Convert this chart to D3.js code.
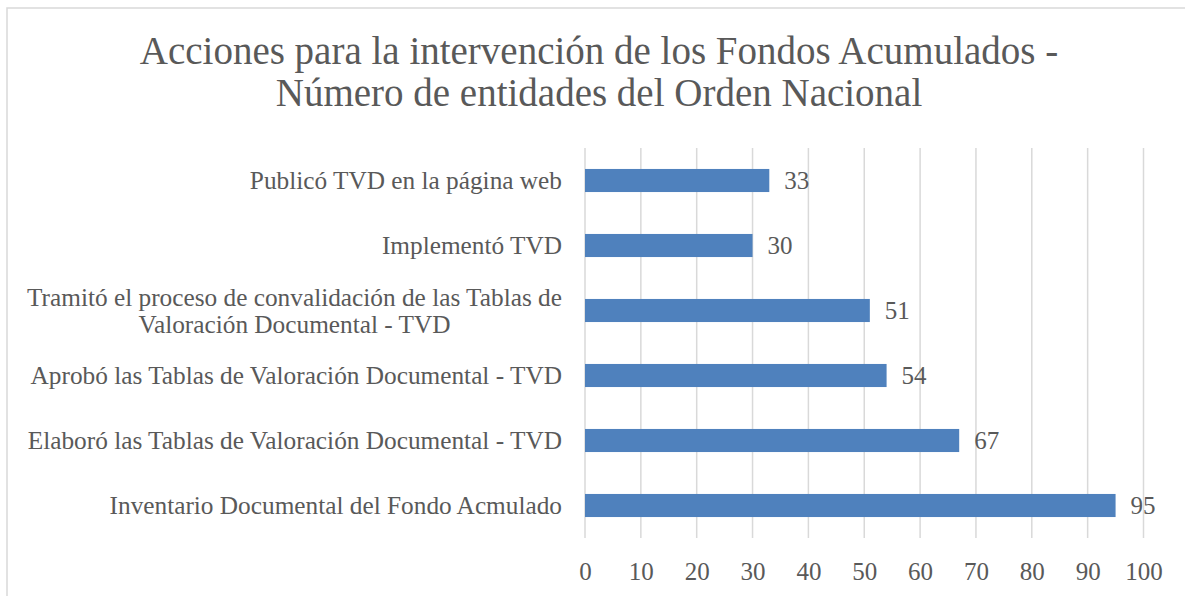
<!DOCTYPE html>
<html>
<head>
<meta charset="utf-8">
<script src="https://cdn.jsdelivr.net/npm/d3@7"></script>
<style>
  body { margin: 0; background: #fff; }
  svg { display: block; font-family: "Liberation Serif", serif; }
</style>
</head>
<body>
<div class="chart"></div>
<script>
// Data
const titleLines = [
  'Acciones para la intervención de los Fondos Acumulados -',
  'Número de entidades del Orden Nacional',
];

const categories = [
  ['Publicó TVD en la página web'],
  ['Implementó TVD'],
  ['Tramitó el proceso de convalidación de las Tablas de', 'Valoración Documental - TVD'],
  ['Aprobó las Tablas de Valoración Documental - TVD'],
  ['Elaboró las Tablas de Valoración Documental - TVD'],
  ['Inventario Documental del Fondo Acmulado'],
];

const values = [33, 30, 51, 54, 67, 95];

const ticks = [0, 10, 20, 30, 40, 50, 60, 70, 80, 90, 100];

// SVG dimensions
const width = 1185;
const height = 596;
const margin = { top: 148, right: 42, bottom: 58, left: 585 };

const textColor = '#595959';
const barColor = '#4f81bd';
const gridColor = '#d9d9d9';

const svg = d3
  .select('.chart')
  .append('svg')
  .attr('width', width)
  .attr('height', height);

// Chart border (only left and top edges are in view)
svg.append('rect')
  .attr('x', 7)
  .attr('y', 8)
  .attr('width', width)
  .attr('height', height)
  .attr('fill', 'none')
  .attr('stroke', gridColor)
  .attr('stroke-width', 1.5);

// Title
svg.append('text')
  .attr('text-anchor', 'middle')
  .attr('fill', textColor)
  .style('font-size', '39px')
  .selectAll('tspan')
  .data(titleLines)
  .enter()
  .append('tspan')
  .attr('x', 599)
  .attr('y', (d, i) => 64 + i * 42)
  .text(d => d);

// Scales
const x = d3.scaleLinear()
  .domain([0, 100])
  .range([margin.left, width - margin.right + 0.5]);

const y = d3.scaleBand()
  .domain(d3.range(categories.length))
  .range([margin.top, height - margin.bottom])
  .paddingInner(0.645)
  .paddingOuter(0.3225);

// Gridlines
svg.append('g')
  .selectAll('line')
  .data(ticks)
  .enter()
  .append('line')
  .attr('x1', d => x(d))
  .attr('x2', d => x(d))
  .attr('y1', margin.top)
  .attr('y2', height - margin.bottom)
  .attr('stroke', gridColor)
  .attr('stroke-width', 1.5);

// X axis labels
const xAxis = svg.append('g')
  .attr('transform', `translate(0,${height - margin.bottom})`)
  .call(d3.axisBottom(x).tickValues(ticks).tickSize(0).tickPadding(24));

xAxis.select('.domain').remove();
xAxis.selectAll('text')
  .attr('fill', textColor)
  .style('font-family', '"Liberation Serif", serif')
  .style('font-size', '25px');

// Bars
svg.append('g')
  .selectAll('rect')
  .data(values)
  .enter()
  .append('rect')
  .attr('x', x(0))
  .attr('y', (d, i) => y(i))
  .attr('width', d => x(d) - x(0))
  .attr('height', y.bandwidth())
  .attr('fill', barColor);

// Value labels
svg.append('g')
  .selectAll('text')
  .data(values)
  .enter()
  .append('text')
  .attr('x', d => x(d) + 15)
  .attr('y', (d, i) => y(i) + y.bandwidth() / 2)
  .attr('dy', '0.35em')
  .attr('fill', textColor)
  .style('font-size', '25px')
  .text(d => d);

// Category labels (multi-line labels centred on each other, block right aligned)
const catLabels = svg.append('g')
  .selectAll('text')
  .data(categories)
  .enter()
  .append('text')
  .attr('fill', textColor)
  .style('font-size', '25.3px')
  .attr('text-anchor', 'middle');

catLabels.each(function (lines, i) {
  const t = d3.select(this);
  const lineH = 27;
  const cy = y(i) + y.bandwidth() / 2;
  lines.forEach((line, j) => {
    t.append('tspan')
      .attr('y', cy + (j - (lines.length - 1) / 2) * lineH)
      .attr('dy', '0.35em')
      .text(line);
  });
  // widest line sets the block; centre every line on it
  const w = d3.max(t.selectAll('tspan').nodes(), n => n.getComputedTextLength());
  t.selectAll('tspan').attr('x', 562 - w / 2);
});
</script>
</body>
</html>
